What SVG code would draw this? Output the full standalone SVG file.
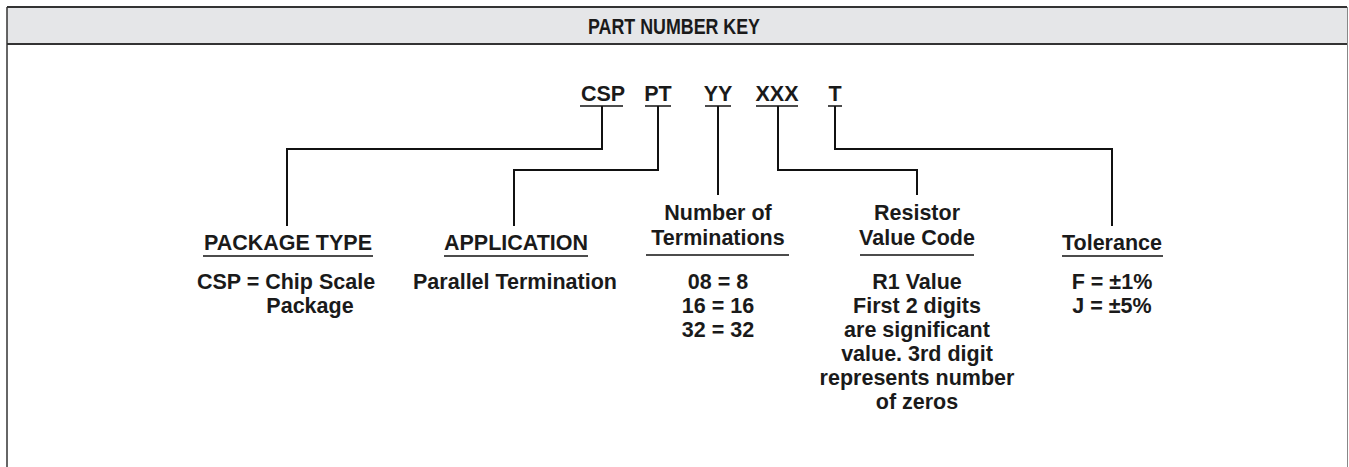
<svg xmlns="http://www.w3.org/2000/svg" width="1349" height="467" viewBox="0 0 1349 467">
<style>
text{font-family:"Liberation Sans",Arial,sans-serif;font-weight:bold;fill:#1a1a1a;text-anchor:middle}
.t{font-size:22px}
.c{font-size:21.5px}
.l{font-size:21.5px}
.w{fill:none;stroke:#111;stroke-width:2}
.u{fill:none;stroke:#111;stroke-width:1.5}
</style>
<rect x="0" y="0" width="1349" height="467" fill="#fff"/>
<g id="frame">
<rect x="7" y="7" width="1340" height="37" fill="#e5e6e8"/>
<line x1="7" y1="7" x2="1347" y2="7" stroke="#333" stroke-width="2"/>
<line x1="7" y1="44" x2="1347" y2="44" stroke="#333" stroke-width="2"/>
<line x1="7" y1="7" x2="7" y2="467" stroke="#333" stroke-width="1.5"/>
<line x1="1347.5" y1="7" x2="1347.5" y2="467" stroke="#888" stroke-width="1"/>
<text class="t" x="674" y="33.5" textLength="172" lengthAdjust="spacingAndGlyphs">PART NUMBER KEY</text>
</g>
<g id="codes">
<text class="c" x="603" y="101">CSP</text>
<text class="c" x="658" y="101">PT</text>
<text class="c" x="718" y="101">YY</text>
<text class="c" x="777" y="101">XXX</text>
<text class="c" x="835" y="101">T</text>
<line class="u" x1="580" y1="106" x2="623" y2="106"/>
<line class="u" x1="645" y1="106" x2="671" y2="106"/>
<line class="u" x1="705" y1="106" x2="731" y2="106"/>
<line class="u" x1="756" y1="106" x2="798" y2="106"/>
<line class="u" x1="828" y1="106" x2="842" y2="106"/>
</g>
<g id="connectors">
<polyline class="w" points="602,106 602,149 287,149 287,226"/>
<polyline class="w" points="658,106 658,170 514,170 514,226"/>
<polyline class="w" points="718,106 718,195"/>
<polyline class="w" points="778,106 778,170 917,170 917,195"/>
<polyline class="w" points="835,106 835,149 1112,149 1112,226"/>
</g>
<g id="package-type">
<text class="l" x="288" y="250">PACKAGE TYPE</text>
<line class="u" x1="203" y1="256" x2="373" y2="256"/>
<text class="l" x="286" y="289">CSP = Chip Scale</text>
<text class="l" x="310" y="313">Package</text>
</g>
<g id="application">
<text class="l" x="516" y="250">APPLICATION</text>
<line class="u" x1="444" y1="256" x2="588" y2="256"/>
<text class="l" x="515" y="289">Parallel Termination</text>
</g>
<g id="terminations">
<text class="l" x="718" y="220">Number of</text>
<text class="l" x="718" y="245">Terminations</text>
<line class="u" x1="646" y1="255" x2="789" y2="255"/>
<text class="l" x="718" y="289">08 = 8</text>
<text class="l" x="718" y="313">16 = 16</text>
<text class="l" x="718" y="337">32 = 32</text>
</g>
<g id="resistor">
<text class="l" x="917" y="220">Resistor</text>
<text class="l" x="917" y="245">Value Code</text>
<line class="u" x1="860" y1="255" x2="974" y2="255"/>
<text class="l" x="917" y="289">R1 Value</text>
<text class="l" x="917" y="313">First 2 digits</text>
<text class="l" x="917" y="337">are significant</text>
<text class="l" x="917" y="361">value. 3rd digit</text>
<text class="l" x="917" y="385">represents number</text>
<text class="l" x="917" y="409">of zeros</text>
</g>
<g id="tolerance">
<text class="l" x="1112" y="250">Tolerance</text>
<line class="u" x1="1062" y1="256" x2="1163" y2="256"/>
<text class="l" x="1112" y="289">F = ±1%</text>
<text class="l" x="1112" y="313">J = ±5%</text>
</g>
</svg>
